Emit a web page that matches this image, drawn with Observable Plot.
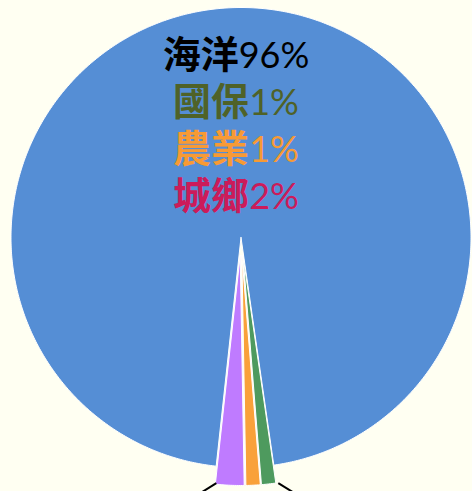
<!DOCTYPE html>
<html>
<head>
<meta charset="utf-8">
<script src="https://cdn.jsdelivr.net/npm/d3@7"></script>
<script src="https://cdn.jsdelivr.net/npm/@observablehq/plot@0.6"></script>
<style>
  html, body { margin: 0; padding: 0; background: #fffff2; overflow: hidden; }
  #chart svg { display: block; }
</style>
</head>
<body>
<div id="chart"></div>
<script>
// ---- data ----
const categories = ["海洋", "國保", "農業", "城鄉"];
const shares = [96, 1, 1, 2];
const valueLabels = ["96%", "1%", "1%", "2%"];
const sliceColors = ["#558ed5", "#4e9a5e", "#f9a13a", "#bf7bff"];
const labelColors = ["#000000", "#4f6228", "#f79a35", "#cc1b5a"];
const exploded = [false, true, true, true];

// ---- layout ----
const W = 472, H = 491;
const cx = 240.5, cy = 237, R = 230;
const startDeg = 186.2;   // first slice starts here (clockwise from 12 o'clock)
const explode = 18;       // px offset of exploded slices
const rad = d => d * Math.PI / 180;

const total = d3.sum(shares);
let cum = 0;
const slices = categories.map((c, i) => {
  const a0 = startDeg + cum / total * 360;
  cum += shares[i];
  const a1 = startDeg + cum / total * 360;
  const mid = (a0 + a1) / 2;
  const ox = exploded[i] ? explode * Math.sin(rad(mid)) : 0;
  const oy = exploded[i] ? -explode * Math.cos(rad(mid)) : 0;
  const ccx = cx + ox, ccy = cy + oy;
  const pts = [{x: ccx, y: ccy}];
  const n = Math.max(2, Math.ceil((a1 - a0) / 0.5));
  for (let k = 0; k <= n; k++) {
    const a = a0 + (a1 - a0) * k / n;
    pts.push({x: ccx + R * Math.sin(rad(a)), y: ccy - R * Math.cos(rad(a))});
  }
  pts.push({x: ccx, y: ccy});
  return {cat: c, a0, a1, ccx, ccy, pts, color: sliceColors[i]};
});

// leader lines from the outer corners of the small slice group
const purple = slices[3], green = slices[1];
const lp = {x: purple.ccx + R * Math.sin(rad(purple.a1)) + 1, y: purple.ccy - R * Math.cos(rad(purple.a1)) - 1};
const rp = {x: green.ccx + R * Math.sin(rad(green.a0)) + 2.5, y: green.ccy - R * Math.cos(rad(green.a0))};
const leaders = [
  {x1: lp.x, y1: lp.y, x2: lp.x - 16, y2: lp.y + 10},
  {x1: rp.x, y1: rp.y, x2: rp.x + 16, y2: rp.y + 10}
];

// label positions (centered lines, CJK name + number)
const cjkSize = 38, numSize = 36;
const cjkFont = `bold ${cjkSize}px 'Noto Sans CJK TC'`;
const numFont = `${numSize}px Lato`;
const ctx = document.createElement("canvas").getContext("2d");
const labelCenter = 235.5;
const baseline0 = 67, lineStep = 47;
const labels = categories.map((c, i) => {
  ctx.font = cjkFont; const wc = ctx.measureText(c).width;
  ctx.font = numFont; const wn = ctx.measureText(valueLabels[i]).width;
  const split = labelCenter - (wc + wn) / 2 + wc;
  return {name: c, value: valueLabels[i], x: split, y: baseline0 + i * lineStep, color: labelColors[i]};
});

const marks = [
  ...slices.map(s => Plot.line(s.pts, {
    x: "x", y: "y", fill: s.color, stroke: "white", strokeWidth: 1,
    strokeLinejoin: "round", curve: "linear-closed"
  })),
  Plot.link(leaders, {x1: "x1", y1: "y1", x2: "x2", y2: "y2", stroke: "black", strokeWidth: 2}),
  Plot.text(labels, {
    x: "x", y: "y", text: "name", fill: "color", textAnchor: "end", lineAnchor: "bottom",
    fontFamily: "'Noto Sans CJK TC', sans-serif", fontWeight: "bold", fontSize: cjkSize
  }),
  Plot.text(labels, {
    x: "x", y: "y", text: "value", fill: "color", textAnchor: "start", lineAnchor: "bottom",
    fontFamily: "Lato, sans-serif", fontSize: numSize
  })
];

const chart = Plot.plot({
  width: W, height: H,
  margin: 0,
  style: {background: "#fffff2"},
  x: {domain: [0, W], range: [0, W], axis: null},
  y: {domain: [0, H], range: [0, H], axis: null},
  color: {type: "identity"},
  marks
});
document.getElementById("chart").append(chart);
</script>
</body>
</html>
